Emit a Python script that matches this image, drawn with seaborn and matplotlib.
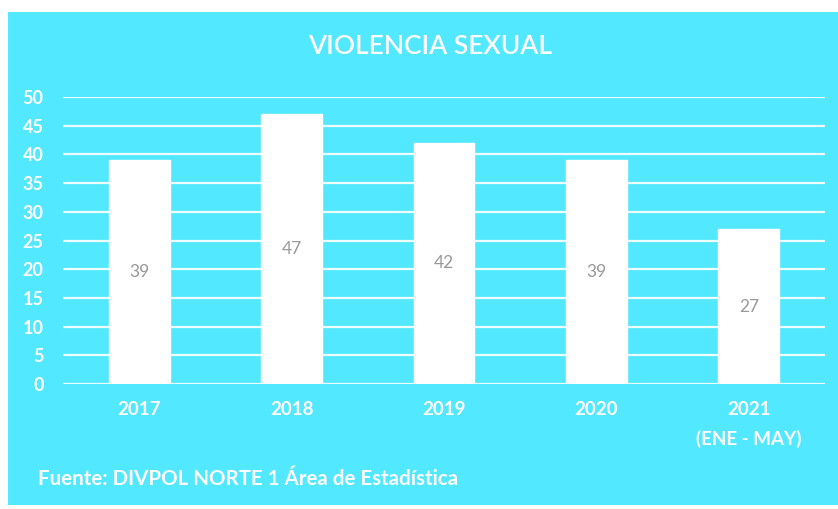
import numpy as np
import pandas as pd
import seaborn as sns
import matplotlib.pyplot as plt
from matplotlib.patches import Rectangle

# datos
anios = ['2017', '2018', '2019', '2020', '2021\n(ENE - MAY)']
casos = [39, 47, 42, 39, 27]
yticks = list(range(0, 55, 5))

df = pd.DataFrame({'anio': anios, 'casos': casos})

sns.set_theme(style='white')
plt.rcParams['font.family'] = ['Lato', 'DejaVu Sans']

cian = '#52E8FF'
W, H = 838, 509
fig = plt.figure(figsize=(W / 100, H / 100), dpi=100, facecolor='white')
fig.patches.append(Rectangle((8 / W, 4 / H), (W - 8) / W, (H - 16) / H,
                             transform=fig.transFigure, facecolor=cian,
                             edgecolor='none', zorder=-10))

ax = fig.add_axes([63 / W, 125 / H, (825 - 63) / W, (384 - 97) / H])
ax.set_facecolor('none')

sns.barplot(data=df, x='anio', y='casos', color='white', width=0.40,
            saturation=1, ax=ax, zorder=3)

ax.set_ylim(0, 50)
ax.set_xlim(-0.5, 4.5)
ax.set_yticks(yticks)
for y in yticks:
    ax.axhline(y, color='white', lw=1.6, alpha=0.9, zorder=1)

for s in ax.spines.values():
    s.set_visible(False)
ax.set_xlabel('')
ax.set_ylabel('')
ax.tick_params(axis='both', length=0, colors='white', labelsize=13)
ax.tick_params(axis='x', labelsize=13.5)
ax.tick_params(axis='y', pad=14)
ax.tick_params(axis='x', pad=12)
for t in ax.get_xticklabels() + ax.get_yticklabels():
    t.set_fontweight('bold')
    t.set_color('white')
for t in ax.get_xticklabels():
    t.set_linespacing(1.8)
    t.set_verticalalignment('top')

ax.bar_label(ax.containers[0], label_type='center', color='#999999',
             fontsize=12.5)

fig.text(430 / W, 1 - 47 / H, 'VIOLENCIA SEXUAL', ha='center', va='center',
         color='white', fontsize=19, fontweight='semibold')
fig.text(38 / W, 1 - 479 / H, 'Fuente: DIVPOL NORTE 1 Área de Estadística',
         ha='left', va='center', color='white', fontsize=14.8, fontweight='bold')

fig.savefig('out.png', dpi=100, facecolor='white')
